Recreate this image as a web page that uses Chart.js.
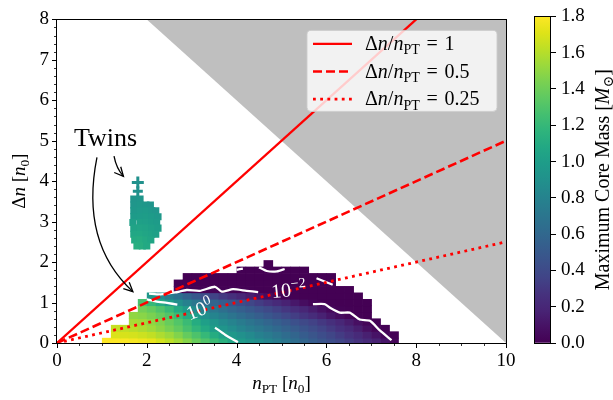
<!DOCTYPE html>
<html>
<head>
<meta charset="utf-8">
<script src="https://cdn.jsdelivr.net/npm/chart.js@4.4.1/dist/chart.umd.min.js"></script>
<style>
  html, body { margin: 0; padding: 0; background: #fff; }
  #wrap { position: relative; width: 613px; height: 400px; }
  #wrap canvas { position: absolute; left: 0; top: 0; }
</style>
</head>
<body>
<div id="wrap">
  <canvas id="mainChart" width="613" height="400"></canvas>
  <canvas id="cbarChart" width="613" height="400"></canvas>
</div>
<script>
// ==========================================
// 1. DATA
// ==========================================
const ratios = [1, 0.5, 0.25];              // Δn / n_PT reference lines
const ratioLabels = ['1', '0.5', '0.25'];
const xTickLabels = [0, 2, 4, 6, 8, 10];
const yTickLabels = [0, 1, 2, 3, 4, 5, 6, 7, 8];
const cbarTicks = [0.0, 0.2, 0.4, 0.6, 0.8, 1.0, 1.2, 1.4, 1.6, 1.8];

// excluded region (n_PT + Δn > 10)
const greyN = [2, 10];
const greyDn = [8, 0];

// heat map grid: column k covers n = 1.0 + 0.2k ... 1.2 + 0.2k
const nFirst = 1.0;
const nStep = 0.2;
const dnEdges = [0, 0.128, 0.288, 0.448, 0.608, 0.768, 0.928, 1.088, 1.248, 1.408, 1.568, 1.728, 1.888, 2.048];
const rowFirstCol = [0, 1, 1, 3, 3, 4, 4, 5, 8, 8, 9, 15, 18];
const massRows = [
  [1.80,1.80,1.79,1.78,1.76,1.74,1.68,1.62,1.55,1.47,1.38,1.30,1.22,1.14,1.05,0.97,0.92,0.87,0.82,0.76,0.70,0.64,0.58,0.52,0.47,0.42,0.37,0.32,0.27,0.22,0.17,0.11,0.03],
  [1.70,1.69,1.68,1.66,1.63,1.58,1.53,1.46,1.37,1.29,1.20,1.11,1.03,0.96,0.90,0.85,0.79,0.74,0.69,0.63,0.58,0.52,0.47,0.42,0.37,0.32,0.27,0.22,0.16,0.10,0.03,0.004],
  [1.64,1.63,1.61,1.58,1.54,1.49,1.43,1.36,1.27,1.18,1.09,1.00,0.93,0.87,0.81,0.76,0.71,0.66,0.61,0.56,0.51,0.46,0.41,0.36,0.31,0.26,0.21,0.15,0.08,0.02,0.003],
  [1.56,1.54,1.50,1.45,1.38,1.31,1.22,1.11,1.01,0.93,0.86,0.80,0.74,0.69,0.64,0.59,0.54,0.49,0.44,0.39,0.35,0.30,0.25,0.20,0.14,0.08,0.03,0.005],
  [1.50,1.48,1.44,1.38,1.31,1.22,1.10,0.98,0.89,0.81,0.75,0.69,0.63,0.58,0.53,0.48,0.43,0.38,0.33,0.28,0.23,0.17,0.11,0.06,0.02,0.005,0.002],
  [1.42,1.37,1.30,1.21,1.09,0.97,0.86,0.78,0.71,0.65,0.59,0.54,0.49,0.44,0.39,0.34,0.29,0.24,0.19,0.14,0.09,0.04,0.01,0.003,0.002,0.002],
  [1.28,1.20,1.10,0.99,0.88,0.79,0.71,0.64,0.58,0.52,0.47,0.42,0.37,0.32,0.27,0.22,0.17,0.12,0.07,0.03,0.008,0.003,0.002,0.002,0.002,0.002],
  [0.95,0.85,0.75,0.66,0.57,0.49,0.42,0.36,0.30,0.25,0.20,0.15,0.11,0.06,0.02,0.005,0.002,0.002,0.002,0.002,0.002,0.002,0.002,0.002],
  [0.02,0.012,0.006,0.015,0.02,0.008,0.01,0.006,0.004,0.002,0.002,0.002,0.002,0.002,0.002,0.002,0.002,0.002,0.002,0.002],
  [0.002,0.002,0.002,0.002,0.002,0.002,0.002,0.002,0.002,0.002,0.002,0.002,0.002,0.002,0.002,0.002,0.002,0.002],
  [0.002,0.002,0.002,0.002,0.002,0.002,0.002,0.002,0.002,0.002,0.002,0.002,0.002,0.002,0.002,0.002,0.002],
  [0.002,0.002,0.002,0.002,0.002,0.002,0.002,0.002],
  [0.002]
];

// twin-star configurations
const twinsN = [1.80, 1.80,
  1.71, 1.85,
  1.71, 1.85, 1.98, 2.08,
  1.71, 1.85, 1.98, 2.11, 2.20,
  1.71, 1.85, 1.98, 2.11, 2.25,
  1.69, 1.85, 1.98, 2.11, 2.22,
  1.71, 1.85, 1.98, 2.11, 2.25,
  1.71, 1.85, 1.98, 2.11, 2.20,
  1.73, 1.85, 1.98, 2.09,
  1.78, 1.90, 2.00];
const twinsDn = [3.97, 3.75,
  3.56, 3.56,
  3.41, 3.41, 3.41, 3.41,
  3.27, 3.27, 3.27, 3.27, 3.27,
  3.12, 3.12, 3.12, 3.12, 3.12,
  2.98, 2.98, 2.98, 2.98, 2.98,
  2.84, 2.84, 2.84, 2.84, 2.84,
  2.69, 2.69, 2.69, 2.69, 2.69,
  2.55, 2.55, 2.55, 2.55,
  2.40, 2.40, 2.40];
const twinsMass = [0.90, 0.90,
  0.93, 0.94,
  0.94, 0.96, 0.95, 0.93,
  0.96, 0.97, 0.98, 0.96, 0.94,
  0.98, 0.99, 1.00, 0.98, 0.96,
  1.01, 1.02, 1.01, 1.00, 0.98,
  1.04, 1.05, 1.04, 1.02, 1.00,
  1.07, 1.08, 1.06, 1.04, 1.02,
  1.10, 1.11, 1.09, 1.06,
  1.13, 1.12, 1.09];

// contour of 10^0 (segments, [n, Δn])
const contourOne = [
  [[2.00,1.08],[2.20,1.03],[2.45,0.99],[2.68,0.95]],
  [[3.52,0.38],[3.75,0.20],[4.03,0.02]]
];
// contour of 10^-2
const contourTwo = [
  [[2.05,1.22],[2.30,1.20],[2.63,1.25],[2.89,1.31],[3.18,1.29],[3.52,1.39],[3.67,1.27],[3.92,1.33],[4.22,1.29],[4.48,1.26]],
  [[5.70,0.96],[5.96,0.96],[6.08,0.87],[6.30,0.75],[6.52,0.75],[6.74,0.58],[6.97,0.55],[7.19,0.31],[7.45,0.07]],
  [[4.50,1.87],[4.67,1.78],[4.90,1.77],[5.07,1.83]],
  [[4.00,1.81],[4.14,1.84]],
  [[5.78,1.60],[6.14,1.44]]
];
const contourLabelPos = [[5.16, 1.30], [3.18, 0.82]];

// annotation anchors (data coords)
const twinsTextPos = [1.08, 5.04];
const bigArrow = [[0.89, 4.59], [0.51, 2.48], [1.69, 1.27]];
const smallArrow = [[1.27, 4.62], [1.32, 4.32], [1.48, 4.12]];

const cbarMax = 1.8;

// ==========================================
// 2. HELPERS
// ==========================================
const SERIF = "'Liberation Serif', 'DejaVu Serif', serif";
const VIRIDIS = ['#440154','#471164','#482475','#46327e','#414487','#3b528b','#355f8d','#2f6c8e','#2a788e','#25848e',
  '#21918c','#1e9c89','#22a884','#2fb47c','#44bf70','#5ec962','#7ad151','#9bd93c','#bddf26','#dfe318','#fde725'];
const VIR_RGB = VIRIDIS.map(h => [parseInt(h.slice(1,3),16), parseInt(h.slice(3,5),16), parseInt(h.slice(5,7),16)]);

function viridis(t) {
  t = Math.min(1, Math.max(0, t));
  const f = t * (VIR_RGB.length - 1);
  const i = Math.min(Math.floor(f), VIR_RGB.length - 2);
  const u = f - i;
  const a = VIR_RGB[i], b = VIR_RGB[i + 1];
  const c = [0,1,2].map(j => Math.round(a[j] + (b[j] - a[j]) * u));
  return 'rgb(' + c.join(',') + ')';
}
const massColor = m => viridis(m / cbarMax);

function fontFor(style, size) {
  const small = style.includes('s') || style.includes('p');
  return (style.includes('i') ? 'italic ' : '') + (small ? size * 0.7 : size) + 'px ' + SERIF;
}

// draw text pieces: [text, style] with i = italic, s = subscript, p = superscript
function drawRich(ctx, parts, x, y, size, align) {
  let w = 0;
  parts.forEach(p => { ctx.font = fontFor(p[1], size); w += ctx.measureText(p[0]).width; });
  let cx = align === 'center' ? x - w / 2 : (align === 'right' ? x - w : x);
  ctx.textAlign = 'left';
  ctx.textBaseline = 'alphabetic';
  parts.forEach(p => {
    ctx.font = fontFor(p[1], size);
    let dy = 0;
    if (p[1].includes('s')) dy = size * 0.22;
    if (p[1].includes('p')) dy = -size * 0.4;
    ctx.fillText(p[0], cx, y + dy);
    cx += ctx.measureText(p[0]).width;
  });
}

function drawArrow(ctx, xs, ys, pts) {
  const p = pts.map(q => [xs.getPixelForValue(q[0]), ys.getPixelForValue(q[1])]);
  ctx.beginPath();
  ctx.moveTo(p[0][0], p[0][1]);
  ctx.quadraticCurveTo(p[1][0], p[1][1], p[2][0], p[2][1]);
  ctx.stroke();
  const ang = Math.atan2(p[2][1] - p[1][1], p[2][0] - p[1][0]);
  const L = 10, spread = 0.45;
  ctx.beginPath();
  ctx.moveTo(p[2][0] - L * Math.cos(ang - spread), p[2][1] - L * Math.sin(ang - spread));
  ctx.lineTo(p[2][0], p[2][1]);
  ctx.lineTo(p[2][0] - L * Math.cos(ang + spread), p[2][1] - L * Math.sin(ang + spread));
  ctx.stroke();
}

// ==========================================
// 3. DATASETS
// ==========================================
const lineStyles = [
  { width: 2.3, dash: [] },
  { width: 2.6, dash: [9, 4] },
  { width: 2.8, dash: [2.8, 4.4] }
];

const datasets = [];

ratios.forEach((r, i) => {
  datasets.push({
    data: [{ x: 0, y: 0 }, { x: 10, y: 10 * r }],
    showLine: true, borderColor: '#ff0000', borderWidth: lineStyles[i].width,
    borderDash: lineStyles[i].dash, pointRadius: 0, fill: false, order: 0, clip: 0
  });
});

contourOne.concat(contourTwo).forEach(seg => {
  datasets.push({
    data: seg.map(p => ({ x: p[0], y: p[1] })),
    showLine: true, borderColor: '#ffffff', borderWidth: 2.3, pointRadius: 0,
    fill: false, order: 3, tension: 0.2
  });
});

datasets.push({
  data: twinsN.map((n, i) => ({ x: n, y: twinsDn[i] })),
  showLine: false,
  pointStyle: twinsN.map((n, i) => i < 2 ? 'cross' : 'rect'),
  pointRadius: twinsN.map((n, i) => i === 0 ? 6 : 5),
  pointBorderWidth: twinsN.map((n, i) => i < 2 ? 3 : 0),
  pointBackgroundColor: twinsMass.map(massColor),
  pointBorderColor: twinsMass.map(massColor),
  order: 4
});

datasets.push({
  data: greyN.map((n, i) => ({ x: n, y: greyDn[i] })),
  showLine: true, borderWidth: 0, borderColor: 'rgba(0,0,0,0)',
  backgroundColor: '#bfbfbf', fill: 'end', pointRadius: 0, order: 10
});

// ==========================================
// 4. PLUGINS
// ==========================================
const heatmapPlugin = {
  id: 'heatmap',
  beforeDatasetsDraw(chart) {
    const { ctx, chartArea, scales: { x: xs, y: ys } } = chart;
    ctx.save();
    ctx.beginPath();
    ctx.rect(chartArea.left, chartArea.top, chartArea.width, chartArea.height);
    ctx.clip();
    massRows.forEach((row, r) => {
      const yTop = ys.getPixelForValue(dnEdges[r + 1]);
      const yBot = ys.getPixelForValue(dnEdges[r]);
      row.forEach((m, c) => {
        const k = rowFirstCol[r] + c;
        const x0 = xs.getPixelForValue(nFirst + k * nStep);
        const x1 = xs.getPixelForValue(nFirst + (k + 1) * nStep);
        ctx.fillStyle = massColor(m);
        ctx.fillRect(x0, yTop, x1 - x0 + 0.6, yBot - yTop + 0.6);
      });
    });
    ctx.restore();
  }
};

const overlayPlugin = {
  id: 'overlay',
  afterDatasetsDraw(chart) {
    const { ctx, chartArea, scales: { x: xs, y: ys } } = chart;
    ctx.save();

    // contour labels
    ctx.fillStyle = '#ffffff';
    const labelParts = [[['10', ''], ['\u22122', 'p']], [['10', ''], ['0', 'p']]];
    const labelRot = [-0.1, -0.38];
    contourLabelPos.forEach((p, i) => {
      ctx.save();
      ctx.translate(xs.getPixelForValue(p[0]), ys.getPixelForValue(p[1]));
      ctx.rotate(labelRot[i]);
      drawRich(ctx, labelParts[i], 0, 6, 20, 'center');
      ctx.restore();
    });

    // Twins annotation
    ctx.fillStyle = '#000';
    ctx.font = '26px ' + SERIF;
    ctx.textAlign = 'center';
    ctx.textBaseline = 'middle';
    ctx.fillText('Twins', xs.getPixelForValue(twinsTextPos[0]), ys.getPixelForValue(twinsTextPos[1]));
    ctx.strokeStyle = '#000';
    ctx.lineWidth = 1.3;
    drawArrow(ctx, xs, ys, bigArrow);
    drawArrow(ctx, xs, ys, smallArrow);

    // legend
    const W = 190, H = 81;
    const L = chartArea.right - 9 - W, T = chartArea.top + 11;
    ctx.beginPath();
    ctx.roundRect(L, T, W, H, 4);
    ctx.fillStyle = 'rgba(255,255,255,0.8)';
    ctx.fill();
    ctx.strokeStyle = 'rgba(204,204,204,0.9)';
    ctx.lineWidth = 1;
    ctx.stroke();
    ratios.forEach((r, i) => {
      const yy = T + 13.5 + i * 27.6;
      ctx.beginPath();
      ctx.strokeStyle = '#ff0000';
      ctx.lineWidth = lineStyles[i].width;
      ctx.setLineDash(lineStyles[i].dash);
      ctx.moveTo(L + 6, yy);
      ctx.lineTo(L + 45, yy);
      ctx.stroke();
      ctx.setLineDash([]);
      ctx.fillStyle = '#000';
      drawRich(ctx, [['\u0394', ''], ['n', 'i'], ['/', ''], ['n', 'i'], ['PT', 's'], ['\u2004=\u2004' + ratioLabels[i], '']],
        L + 58, yy + 6, 20, 'left');
    });
    ctx.restore();
  },
  afterDraw(chart) {
    const { ctx, chartArea, scales: { x: xs, y: ys } } = chart;
    ctx.save();
    ctx.strokeStyle = '#000';
    // ticks (major longer than minor)
    xs.ticks.forEach(t => {
      const major = xTickLabels.includes(t.value);
      const px = Math.round(xs.getPixelForValue(t.value)) + 0.5;
      ctx.lineWidth = major ? 1 : 0.8;
      ctx.beginPath();
      ctx.moveTo(px, chartArea.bottom);
      ctx.lineTo(px, chartArea.bottom + (major ? 5 : 3));
      ctx.stroke();
    });
    ys.ticks.forEach(t => {
      const major = yTickLabels.includes(t.value);
      const py = Math.round(ys.getPixelForValue(t.value)) + 0.5;
      ctx.lineWidth = major ? 1 : 0.8;
      ctx.beginPath();
      ctx.moveTo(chartArea.left, py);
      ctx.lineTo(chartArea.left - (major ? 5 : 3), py);
      ctx.stroke();
    });
    // frame
    ctx.lineWidth = 1;
    ctx.strokeRect(Math.round(chartArea.left) - 0.5, Math.round(chartArea.top) + 0.5,
      Math.round(chartArea.width) + 1, Math.round(chartArea.height));
    // axis titles
    ctx.fillStyle = '#000';
    drawRich(ctx, [['n', 'i'], ['PT', 's'], [' [', ''], ['n', 'i'], ['0', 's'], [']', '']],
      (chartArea.left + chartArea.right) / 2, 389, 19, 'center');
    ctx.save();
    ctx.translate(25, (chartArea.top + chartArea.bottom) / 2);
    ctx.rotate(-Math.PI / 2);
    drawRich(ctx, [['\u0394', ''], ['n', 'i'], [' [', ''], ['n', 'i'], ['0', 's'], [']', '']], 0, 0, 19, 'center');
    ctx.restore();
    ctx.restore();
  }
};

const tickFont = { family: SERIF, size: 19 };

new Chart(document.getElementById('mainChart'), {
  type: 'scatter',
  data: { datasets: datasets },
  options: {
    responsive: false,
    animation: false,
    events: [],
    layout: { padding: { left: 0, top: 10, right: 107, bottom: 0 } },
    plugins: { legend: { display: false }, tooltip: { enabled: false } },
    scales: {
      x: {
        type: 'linear', min: 0, max: 10,
        afterFit: s => { s.height = 57; },
        grid: { display: false, drawTicks: false },
        border: { display: false },
        ticks: {
          stepSize: 0.5, autoSkip: false, maxRotation: 0, minRotation: 0, padding: 7,
          color: '#000', font: tickFont,
          callback: v => xTickLabels.includes(v) ? String(v) : ''
        }
      },
      y: {
        type: 'linear', min: 0, max: 8,
        afterFit: s => { s.width = 57; },
        grid: { display: false, drawTicks: false },
        border: { display: false },
        ticks: {
          stepSize: 0.2, autoSkip: false, padding: 8,
          color: '#000', font: tickFont,
          callback: v => yTickLabels.includes(v) ? String(v) : ''
        }
      }
    }
  },
  plugins: [heatmapPlugin, overlayPlugin]
});

// ==========================================
// 5. COLOR BAR
// ==========================================
const cbarPlugin = {
  id: 'cbarFrame',
  afterDraw(chart) {
    const { ctx, chartArea } = chart;
    ctx.save();
    ctx.strokeStyle = '#000';
    ctx.lineWidth = 1;
    ctx.strokeRect(Math.round(chartArea.left) + 0.5, Math.round(chartArea.top) + 0.5,
      Math.round(chartArea.width) - 1, Math.round(chartArea.height));
    ctx.fillStyle = '#000';
    ctx.translate(609, (chartArea.top + chartArea.bottom) / 2);
    ctx.rotate(-Math.PI / 2);
    drawRich(ctx, [['Maximum Core Mass [', ''], ['M', 'i'], ['\u2299', 's'], [']', '']], 0, 0, 20, 'center');
    ctx.restore();
  }
};

function cbarGradient(chart) {
  const area = chart.chartArea;
  if (!area) return VIRIDIS[0];
  const g = chart.ctx.createLinearGradient(0, area.bottom, 0, area.top);
  VIRIDIS.forEach((c, i) => g.addColorStop(i / (VIRIDIS.length - 1), c));
  return g;
}

new Chart(document.getElementById('cbarChart'), {
  type: 'bar',
  data: {
    labels: [''],
    datasets: [{
      data: [cbarMax],
      backgroundColor: ctx => cbarGradient(ctx.chart),
      borderWidth: 0, barPercentage: 1, categoryPercentage: 1
    }]
  },
  options: {
    responsive: false,
    animation: false,
    events: [],
    layout: { padding: { left: 534, top: 10, right: 0, bottom: 57 } },
    plugins: { legend: { display: false }, tooltip: { enabled: false } },
    scales: {
      x: { display: false },
      y: {
        position: 'right', min: 0, max: cbarMax,
        afterFit: s => { s.width = 62; },
        grid: { drawOnChartArea: false, drawTicks: true, tickLength: 5, tickColor: '#000', tickWidth: 1 },
        border: { display: false },
        ticks: {
          stepSize: 0.2, autoSkip: false, padding: 5, color: '#000', font: tickFont,
          callback: v => cbarTicks.some(t => Math.abs(t - v) < 1e-6) ? v.toFixed(1) : ''
        }
      }
    }
  },
  plugins: [cbarPlugin]
});
</script>
</body>
</html>
